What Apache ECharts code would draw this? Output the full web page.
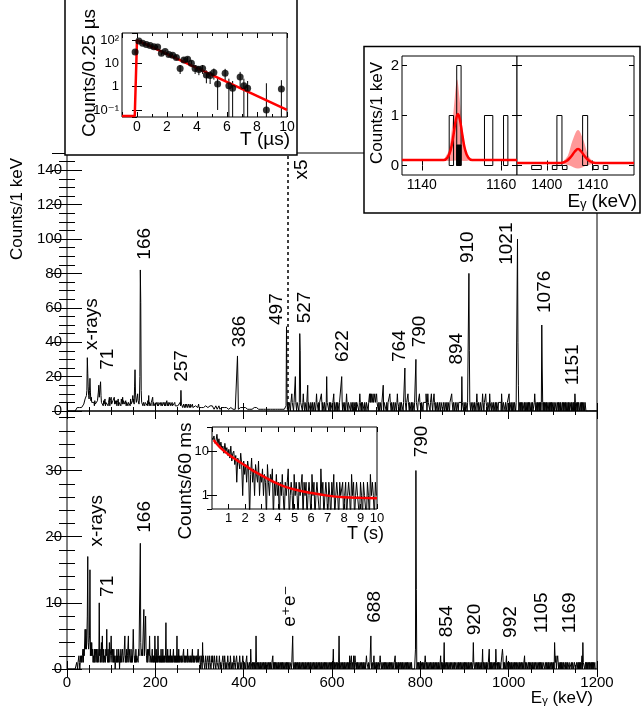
<!DOCTYPE html>
<html>
<head>
  <meta charset="utf-8">
</head>
<body style="margin: 0">
  <div id="container" style="width: 643px; height: 710px"></div>
  <script src="https://cdn.jsdelivr.net/npm/echarts@6/dist/echarts.min.js"></script>
  <script>
// ---------- data ----------
// upper spectrum: counts per 1 keV bin, 0..1199 keV (above 500 keV drawn x5)
var upRows = [
  '0000000000 0000000000 0012112121 2132322343 4768900009 7000685465 4536453546 6008900954 4536457354 5463548365',
  '8453657846 5463547356 4537648465 7456354635 4563745369 5740007566 0654700005 4635453546 4536493545 3546835463',
  '4354635344 3543453435 4353436345 3435434353 4343534343 3434345304 3423432342 3432343234 2332423323 3223232342',
  '2322323232 2232323222 3222322323 2231222322 1222321222 2122212312 2212221212 1212221221 2122120012 1212121221',
  '2121212121 1212112121 2111211132 1211212112 1121121211 1111211121 1211111211 1121111112 1111211111 1211123001',
  '1101110112 1110111411 0111101971 1110121101 1101130111 1011101110 1110121110 1011112101 1101110141 1110110111',
  '1011201110 1101110111 1141011101 1012110111 1101110110 1110101111 1012110101 1110111011 1101121212 2112111211',
  '1211101101 1101113011 1110110111 1211011101 1101110121 1110110111 1011151101 1121101110 1101110111 6111011121',
  '1101110111 1112101211 1101121101 1211011101 1101110111 1011101110 1101110111 1211011101 1101110111 1110411101',
  '1101110111 0711011101 1101110121 1011101110 1211011121 1101110211 1011101110 1101110111 1110211011 1101110111',
  '1201110110 1101110111 0830110101 1011101101 1010010110 0100100012 1011010110 1010105101 0100101001 1010010100',
  '1001000100 0101001010 0010100101 1010010100 0101001010 2101101011 1011010110 1101100000 0000000000 0000000000'
];
var upPeaks = [[45, 12], [46, 31], [47, 22], [48, 14], [51, 12], [52, 19], [53, 11], [71, 11], [72, 15],
  [75, 14], [76, 17], [153, 14], [154, 24], [155, 11], [160, 10], [165, 20], [166, 82], [167, 63], [168, 12],
  [258, 12], [386, 32], [387, 18], [497, 49], [498, 12], [910, 16], [1020, 20], [1075, 10]];

// lower spectrum: counts per 1 keV bin
var lowRows = [
  '0000000000 0000000000 0011011210 1212123132 2636358043 3592424231 2131231321 3212231241 5213122132 6213124123',
  '5213213120 1213121320 2131223112 2512131225 1322131213 6321213122 2132220422 3222922283 2131232512 2123121215',
  '2131215212 1213121312 1212712131 2121312121 1312121215 1213121121 2111312121 1213112112 1211312121 1121211311',
  '1201210412 1101210112 1012110121 2101211012 1110121011 0112101210 1101211010 2110110121 1011210110 1210110121',
  '1011011201 1101103110 1011011051 0110110101 1011011010 1101101101 0110112010 1011011010 1101101011 0110110101',
  '1011011101 1510110101 1011010110 1101101101 0110110110 1011011011 0110101101 1011010110 1101011011 0110110101',
  '1013010110 1101015011 0110110101 1011011010 2011201102 1021101011 0110110110 1011010121 1101101151 0110120110',
  '1011011012 1101101101 0110110110 1011011011 0112010110 1011011010 1101101101 0110110110 1000000003 0000101101',
  '1011011010 1210110110 1101101101 0110110110 1011012011 0101401101 1011011010 0110110101 1101101011 0110110110',
  '1011011010 1101101101 4110110110 1011011010 1301101101 0110113010 1011011011 0311010110 1101113201 0110120110',
  '1011010110 1101011010 0100101101 1010002010 0100010100 1001010010 0110110110 1011011011 1101101101 0110110110',
  '1010421201 1210110101 0100100010 1001000100 0010010001 1000100101 0101012041 1100101010 0101001010 1010010000'
];
var lowPeaks = [[47, 17], [52, 15], [73, 10], [166, 19], [790, 30], [791, 12]];

// peak labels: text, keV, counts (lower-left of the rotated text)
var upNotes = [['x-rays', 57, 35.5], ['71', 93, 24], ['166', 177, 88], ['257', 260, 17], ['386', 392, 37],
  ['497', 475, 50], ['527', 539, 51], ['x5', 532, 134.6], ['622', 625, 28.5], ['764', 754, 28.5],
  ['790', 799, 37], ['894', 883, 27], ['910', 908, 86], ['1021', 996, 85], ['1076', 1082, 57], ['1151', 1146, 15]];
var lowNotes = [['x-rays', 68, 18.5], ['71', 93, 10.9], ['166', 177, 20.6], ['e\u207ae\u207b', 505, 6.4],
  ['688', 697, 7], ['790', 804, 32], ['854', 860, 4.8], ['920', 924, 5.1], ['992', 1005, 4.7],
  ['1105', 1075, 5.4], ['1169', 1139, 5.4]];

// time inset (top left), 0.25 us bins
var tTime = [-0.125, 0.125, 0.375, 0.625, 0.875, 1.125, 1.375, 1.625, 1.875, 2.125, 2.375, 2.625, 2.875, 3.125,
  3.375, 3.625, 3.875, 4.125, 4.375, 4.625, 4.875, 5.125, 5.375, 5.875, 6.125, 6.375, 6.875, 7.125, 7.375, 8.625, 9.625];
var tCounts = [31, 90, 72, 65, 58, 52, 50, 27, 32, 24, 22, 18, 6, 14, 15, 10, 6, 5.5, 6, 3.2, 3, 4, 1.3, 3.8, 1.1,
  0.85, 2.6, 1.1, 0.85, 0.1, 0.8];
var tErr = [5.6, 9.5, 8.5, 8, 7.6, 7.2, 7, 5.2, 5.7, 4.9, 4.7, 4.2, 2.5, 3.7, 3.9, 3.2, 2.5, 2.4, 2.5, 1.8, 1.7, 2,
  1.2, 2, 1.1, 0.9, 1.7, 1.1, 0.9, 1.3, 1.1];
var tFit = [[-1, 0.055], [-0.15, 0.055], [0, 100], [10, 0.1]];

// energy insets (top right)
var eLeftHist = [[1146.9, 1148, 1], [1148.8, 1149.9, 2], [1155.8, 1157.9, 1], [1160.6, 1161.7, 1]];
var eLeftGate = [[1148.8, 1149.9, 0.41]];
var eLeftFit = [[1135, 0.11], [1145.5, 0.11], [1146.5, 0.16], [1147.3, 0.32], [1148, 0.62], [1148.6, 0.92],
  [1149.1, 1.03], [1149.6, 0.92], [1150.2, 0.62], [1150.9, 0.32], [1151.7, 0.16], [1152.7, 0.11], [1164, 0.11]];
var eLeftBand = [[1145.8, 0.11], [1146.8, 0.3], [1147.6, 0.75], [1148.3, 1.35], [1148.9, 1.72], [1149.5, 1.35],
  [1150.2, 0.75], [1151, 0.3], [1152, 0.11], [1149, 0.1]];
var eRightHist = [[1396.7, 1398.8, -0.08], [1401.2, 1402.2, -0.08], [1402.2, 1403.3, 1], [1403.4, 1404.4, -0.08],
  [1407.8, 1408.9, 1], [1410.1, 1411.2, -0.08], [1412.3, 1413.3, -0.08]];
var eRightFit = [[1393.5, 0.05], [1403, 0.05], [1404.3, 0.09], [1405.3, 0.18], [1406.1, 0.28], [1406.8, 0.33],
  [1407.5, 0.28], [1408.3, 0.18], [1409.3, 0.09], [1410.6, 0.05], [1419, 0.05]];
var eRightBand = [[1403.5, 0.05], [1404.6, 0.2], [1405.6, 0.5], [1406.8, 0.71], [1408, 0.5], [1409, 0.2],
  [1410.1, 0.05], [1408.6, 0], [1406.8, -0.06], [1405, 0]];

// decay inset (bottom), 60 ms bins from 0 to 10 s
var sCounts = [20, 18, 22, 15, 17, 24, 14, 19, 12, 16, 11, 13, 9, 15, 10, 12, 8,
  11, 7, 13, 6, 9, 10, 5, 8, 2, 7, 6, 4, 9, 5, 1, 6, 3,
  5, 2, 6, 4, 0, 3, 7, 2, 4, 1, 5, 3, 2, 6, 1, 3, 2,
  4, 1, 3, 2, 0, 5, 2, 1, 3, 2, 4, 0, 2, 1, 3, 1, 2,
  0, 2, 1, 3, 1, 0, 2, 1, 2, 4, 0, 1, 2, 1, 0, 3, 1,
  2, 1, 0, 2, 1, 1, 3, 0, 2, 1, 2, 0, 1, 2, 1, 0, 3,
  1, 2, 0, 1, 2, 1, 1, 0, 4, 1, 2, 0, 1, 2, 1, 0, 2,
  1, 0, 2, 1, 3, 0, 1, 2, 1, 0, 2, 1, 1, 2, 0, 1, 2,
  0, 1, 2, 1, 0, 3, 1, 2, 0, 1, 2, 1, 1, 0, 2, 1, 0,
  2, 1, 1, 0, 2, 1, 0, 3, 1, 2, 1, 0, 2, 1];
var sFit = [[0.1, 17.8], [0.5, 12], [1, 8.4], [1.5, 6.3], [2, 4.8], [2.5, 3.6], [3, 2.85], [3.5, 2.25], [4, 1.84],
  [4.5, 1.55], [5, 1.37], [6, 1.15], [7, 1.0], [8, 0.92], [9, 0.89], [10, 0.87]];

// ---------- build ----------
var FONT = '"Liberation Sans", "DejaVu Sans", sans-serif';

function decode(rows, peaks) {
  var c = rows.join('').replace(/\s/g, '').split('').map(Number);
  peaks.forEach(function (p) { c[p[0]] = p[1]; });
  return c;
}
var upCounts = decode(upRows, upPeaks);
var lowCounts = decode(lowRows, lowPeaks);
var upData = upCounts.map(function (c, e) { return [e + 0.5, e >= 500 ? c * 5 : c]; });
var lowData = lowCounts.map(function (c, e) { return [e + 0.5, c]; });
var sData = sCounts.map(function (c, i) { return [(i + 0.5) * 0.06, c > 0 ? c : 0.3]; });

var dom = document.getElementById('container');
var chart = echarts.init(dom, null, { renderer: 'canvas' });

function tickCfg(len) { return { show: true, inside: true, length: len, lineStyle: { color: '#000', width: 1 } }; }
function lab(show, size, extra) {
  var o = { show: show, color: '#000', fontSize: size, fontFamily: FONT, margin: 5, showMinLabel: true, showMaxLabel: false };
  for (var k in extra) o[k] = extra[k];
  return o;
}
function plain(v) { return String(v); }
function mainX(grid, pos, show) {
  return { type: 'value', gridIndex: grid, position: pos, min: 0, max: 1200, interval: 200,
    axisLine: { show: false }, splitLine: { show: false }, axisTick: tickCfg(8),
    minorTick: { show: true, splitNumber: 4, length: 4, lineStyle: { color: '#000' } },
    axisLabel: lab(show, 15, { showMaxLabel: true, margin: 6, formatter: plain }) };
}
function mainY(grid, pos, max, step, minor, show) {
  return { type: 'value', gridIndex: grid, position: pos, min: 0, max: max, interval: step,
    axisLine: { show: false }, splitLine: { show: false }, axisTick: tickCfg(15),
    minorTick: { show: true, splitNumber: minor, length: 8, lineStyle: { color: '#000' } },
    axisLabel: lab(show, 15, { margin: 5 }) };
}
function insetAxis(grid, pos, opt, show, size, ends) {
  var o = { gridIndex: grid, position: pos, z: 22, axisLine: { show: false }, splitLine: { show: false },
    axisTick: tickCfg(5), axisLabel: lab(show, size, { showMinLabel: !!ends, showMaxLabel: !!ends, margin: 3, formatter: plain }) };
  for (var k in opt) o[k] = opt[k];
  return o;
}
function logLabel(v) {
  var k = Math.round(Math.log10(v));
  return k === -1 ? '10\u207b\u00b9' : k === 2 ? '10\u00b2' : k === 0 ? '1' : k === 1 ? '10' : '';
}
var tlX = { type: 'value', min: -1, max: 10, splitNumber: 5,
  minorTick: { show: true, splitNumber: 2, length: 3, lineStyle: { color: '#000' } } };
var tlY = { type: 'log', min: 0.05, max: 200 };
var trY = { type: 'value', min: -0.19, max: 2.19 };
var liX = { type: 'value', min: 0, max: 10, interval: 1 };
var liY = { type: 'log', min: 0.5, max: 35 };

var xAxes = [
  mainX(0, 'bottom', false), mainX(0, 'top', false), mainX(1, 'bottom', true), mainX(1, 'top', false),
  insetAxis(2, 'bottom', tlX, true, 14), insetAxis(2, 'top', tlX, false, 14),
  insetAxis(3, 'bottom', { type: 'value', min: 1135, max: 1164 }, true, 14, true),
  insetAxis(3, 'top', { type: 'value', min: 1135, max: 1164 }, false, 14),
  insetAxis(4, 'bottom', { type: 'value', min: 1393.5, max: 1419 }, true, 14, true),
  insetAxis(4, 'top', { type: 'value', min: 1393.5, max: 1419 }, false, 14),
  insetAxis(5, 'bottom', liX, true, 13), insetAxis(5, 'top', liX, false, 13)
];
xAxes[4].axisLabel.showMaxLabel = true;
xAxes[10].axisLabel.showMaxLabel = true;
xAxes[6].axisLabel.customValues = [1140, 1160]; xAxes[6].axisTick.customValues = [1140, 1160];
xAxes[7].axisTick.customValues = [1140, 1160];
xAxes[8].axisLabel.customValues = [1400, 1410]; xAxes[8].axisTick.customValues = [1400, 1410];
xAxes[9].axisTick.customValues = [1400, 1410];

var yAxes = [
  mainY(0, 'left', 150, 20, 4, true), mainY(0, 'right', 150, 20, 4, false),
  mainY(1, 'left', 39, 10, 5, true), mainY(1, 'right', 39, 10, 5, false),
  insetAxis(2, 'left', tlY, true, 13), insetAxis(2, 'right', tlY, false, 13),
  insetAxis(3, 'left', trY, true, 15, true), insetAxis(3, 'right', trY, false, 15),
  insetAxis(4, 'left', trY, false, 15), insetAxis(4, 'right', trY, false, 15),
  insetAxis(5, 'left', liY, true, 13), insetAxis(5, 'right', liY, false, 13)
];
yAxes[4].axisLabel.formatter = logLabel;
yAxes[10].axisLabel.formatter = logLabel;
[6, 7, 8, 9].forEach(function (i) {
  yAxes[i].axisTick.customValues = [0, 1, 2];
  if (i === 6) yAxes[i].axisLabel.customValues = [0, 1, 2];
});

function grid(l, t, w, h, inset) {
  var g = { left: l, top: t, width: w, height: h, show: true, borderColor: '#000', borderWidth: 1 };
  if (inset) { g.backgroundColor = '#fff'; g.z = 21; }
  return g;
}

function histRects(xi, yi, rows, fill) {
  return { type: 'custom', xAxisIndex: xi, yAxisIndex: yi, z: 23, clip: true, data: rows,
    renderItem: function (params, api) {
      var a = api.coord([api.value(0), 0]);
      var b = api.coord([api.value(1), api.value(2)]);
      return { type: 'rect', shape: { x: a[0], y: Math.min(a[1], b[1]), width: b[0] - a[0], height: Math.abs(a[1] - b[1]) },
        style: { fill: fill, stroke: '#000', lineWidth: 1 } };
    } };
}
function band(xi, yi, pts) {
  return { type: 'custom', xAxisIndex: xi, yAxisIndex: yi, z: 23, clip: true, data: [[pts[0][0], pts[0][1]]],
    renderItem: function (params, api) {
      return { type: 'polygon', shape: { points: pts.map(function (p) { return api.coord(p); }), smooth: 0.35 },
        style: { fill: 'rgba(255,0,0,0.4)', stroke: 'none' } };
    } };
}
function redLine(xi, yi, pts, smooth) {
  return { type: 'line', xAxisIndex: xi, yAxisIndex: yi, z: 24, data: pts, smooth: smooth, showSymbol: false,
    lineStyle: { color: '#ff0000', width: 2.5 }, clip: true };
}
function zeroLine() {
  return { silent: true, symbol: 'none', label: { show: false }, lineStyle: { color: '#000', type: 'solid', width: 1 },
    data: [{ yAxis: 0 }] };
}

var option = {
  animation: false,
  backgroundColor: '#fff',
  grid: [grid(67, 153, 530, 258), grid(67, 411, 530, 258), grid(122, 33, 165, 84, true),
    grid(402, 56, 115, 119, true), grid(517, 56, 117, 119, true), grid(212, 427, 165, 82, true)],
  xAxis: xAxes,
  yAxis: yAxes,
  series: [
    { type: 'line', xAxisIndex: 0, yAxisIndex: 0, step: 'middle', data: upData, showSymbol: false,
      lineStyle: { color: '#000', width: 1 },
      markLine: { silent: true, symbol: 'none', label: { show: false },
        lineStyle: { color: '#000', type: [3, 3], width: 1.5 }, data: [{ xAxis: 500 }] } },
    { type: 'line', xAxisIndex: 2, yAxisIndex: 2, step: 'middle', data: lowData, showSymbol: false,
      lineStyle: { color: '#000', width: 1 } },
    // top-left inset
    redLine(4, 4, tFit, false),
    { type: 'custom', xAxisIndex: 4, yAxisIndex: 4, z: 24, clip: true,
      data: tTime.map(function (t, i) { return [t, tCounts[i], tErr[i]]; }),
      renderItem: function (params, api) {
        var v = api.value(1), e = api.value(2);
        var a = api.coord([api.value(0), Math.max(v - e, 0.05)]);
        var b = api.coord([api.value(0), v + e]);
        return { type: 'line', shape: { x1: a[0], y1: a[1], x2: b[0], y2: b[1] }, style: { stroke: '#000', lineWidth: 1 } };
      } },
    { type: 'scatter', xAxisIndex: 4, yAxisIndex: 4, z: 25, symbolSize: 7, itemStyle: { color: '#000' },
      data: tTime.map(function (t, i) { return [t, tCounts[i]]; }) },
    // top-right insets
    band(6, 6, eLeftBand),
    histRects(6, 6, eLeftHist, 'none'),
    histRects(6, 6, eLeftGate, '#000'),
    { type: 'line', xAxisIndex: 6, yAxisIndex: 6, z: 23, data: [], markLine: zeroLine() },
    redLine(6, 6, eLeftFit, 0.4),
    band(8, 8, eRightBand),
    histRects(8, 8, eRightHist, 'none'),
    { type: 'line', xAxisIndex: 8, yAxisIndex: 8, z: 23, data: [], markLine: zeroLine() },
    redLine(8, 8, eRightFit, 0.4),
    // bottom inset
    { type: 'line', xAxisIndex: 10, yAxisIndex: 10, z: 23, step: 'middle', data: sData, showSymbol: false,
      lineStyle: { color: '#000', width: 1 }, clip: true },
    redLine(10, 10, sFit, 0.4)
  ]
};
chart.setOption(option);

// text and inset boxes
function txt(s, x, y, size, rot, align, z) {
  return { type: 'text', x: x, y: y, rotation: rot ? Math.PI / 2 : 0, z: z || 25,
    style: { text: s, fill: '#000', font: size + 'px ' + FONT, align: align || 'center', verticalAlign: 'middle' } };
}
var gfx = [
  { type: 'rect', z: 20, shape: { x: 65, y: -2, width: 232, height: 157 }, style: { fill: '#fff', stroke: '#000', lineWidth: 1.5 } },
  { type: 'rect', z: 20, shape: { x: 364, y: 46.5, width: 276, height: 166.5 }, style: { fill: '#fff', stroke: '#000', lineWidth: 1.5 } },
  txt('Counts/0.25 \u00b5s', 90, 73, 19, true),
  txt('T (\u00b5s)', 290, 140, 19, false, 'right'),
  txt('Counts/1 keV', 377, 113, 17, true),
  txt('E\u1d67 (keV)', 637, 202, 19, false, 'right'),
  txt('Counts/60 ms', 186, 481, 19, true),
  txt('T (s)', 384, 534, 18, false, 'right'),
  txt('Counts/1 keV', 17, 209, 17, true, 'center', 5),
  txt('E\u1d67 (keV)', 593, 698, 17, false, 'right', 5)
];
upNotes.forEach(function (n) {
  var p = chart.convertToPixel({ xAxisIndex: 0, yAxisIndex: 0 }, [n[1], n[2]]);
  gfx.push(txt(n[0], p[0], p[1], 19, true, 'left', 5));
});
lowNotes.forEach(function (n) {
  var p = chart.convertToPixel({ xAxisIndex: 2, yAxisIndex: 2 }, [n[1], n[2]]);
  gfx.push(txt(n[0], p[0], p[1], 19, true, 'left', 5));
});
chart.setOption({ graphic: gfx });

window.addEventListener('resize', chart.resize);
  </script>
</body>
</html>
